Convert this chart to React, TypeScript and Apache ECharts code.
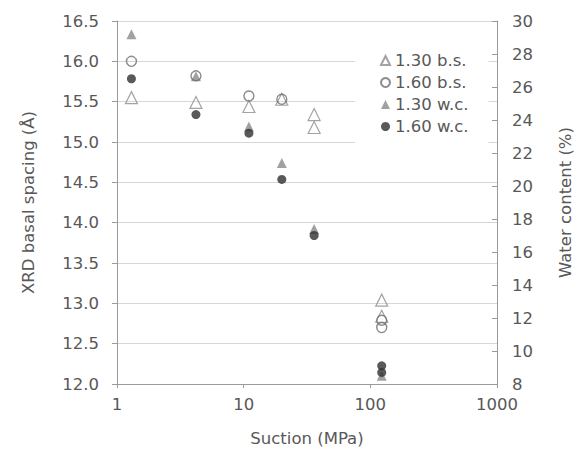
import React, { useEffect, useRef } from "react";
import * as echarts from "echarts";

// Suction (MPa) and measured values per series
const bs130X = [1.3, 4.2, 11, 20, 36, 36, 123, 123];
const bs130Y = [15.55, 15.49, 15.44, 15.53, 15.34, 15.18, 13.04, 12.84];
const bs160X = [1.3, 4.2, 11, 20, 123, 123];
const bs160Y = [16.0, 15.82, 15.57, 15.53, 12.79, 12.7];
const wc130X = [1.3, 4.2, 11, 20, 36, 123];
const wc130Y = [29.2, 26.65, 23.6, 21.4, 17.4, 8.5];
const wc160X = [1.3, 4.2, 11, 20, 36, 123, 123];
const wc160Y = [26.5, 24.33, 23.2, 20.4, 17.0, 9.1, 8.7];

const seriesNames = ["1.30 b.s.", "1.60 b.s.", "1.30 w.c.", "1.60 w.c."];
const xTicks = [1, 10, 100, 1000];

const pair = (xs: number[], ys: number[]) => xs.map((x, i) => [x, ys[i]]);

const FONT = "DejaVu Sans";
const TXT = "#585858";

export default function App() {
  const ref = useRef<HTMLDivElement>(null);
  useEffect(() => {
    if (!ref.current) return;
    const chart = echarts.init(ref.current, undefined, { renderer: "svg" });
    chart.setOption({
      animation: false,
      backgroundColor: "#ffffff",
      textStyle: { fontFamily: FONT },
      grid: { left: 117, right: 91, top: 21, bottom: 78 },
      legend: {
        orient: "vertical",
        left: 355,
        top: 36,
        padding: [16, 20, 18, 25],
        backgroundColor: "#ffffff",
        itemWidth: 9,
        itemHeight: 9,
        itemGap: 5,
        textStyle: { fontFamily: FONT, fontSize: 16.5, color: TXT },
        data: seriesNames,
      },
      xAxis: {
        type: "log",
        logBase: 10,
        min: 1,
        max: 1000,
        name: "Suction (MPa)",
        nameLocation: "middle",
        nameGap: 46,
        nameTextStyle: { fontFamily: FONT, fontSize: 16.5, color: TXT },
        axisLine: { lineStyle: { color: "#9a9a9a" } },
        axisTick: { show: true, length: 4, lineStyle: { color: "#9a9a9a" } },
        axisLabel: {
          fontFamily: FONT,
          fontSize: 16.5,
          color: TXT,
          margin: 12,
          formatter: (v: number) => (xTicks.includes(v) ? String(v) : ""),
        },
        splitLine: { show: false },
        minorTick: { show: false },
      },
      yAxis: [
        {
          type: "value",
          min: 12,
          max: 16.5,
          interval: 0.5,
          position: "left",
          name: "XRD basal spacing (Å)",
          nameLocation: "middle",
          nameGap: 80,
          nameTextStyle: { fontFamily: FONT, fontSize: 16.5, color: TXT },
          axisLine: { show: true, lineStyle: { color: "#9a9a9a" } },
          axisTick: { show: true, length: 5, lineStyle: { color: "#9a9a9a" } },
          axisLabel: {
            fontFamily: FONT,
            fontSize: 16.5,
            color: TXT,
            margin: 18,
            formatter: (v: number) => v.toFixed(1),
          },
          splitLine: { show: true, lineStyle: { color: "#d6d6d6", width: 1 } },
        },
        {
          type: "value",
          min: 8,
          max: 30,
          interval: 2,
          position: "right",
          name: "Water content (%)",
          nameLocation: "middle",
          nameGap: 60,
          nameTextStyle: { fontFamily: FONT, fontSize: 16.5, color: TXT },
          axisLine: { show: true, lineStyle: { color: "#9a9a9a" } },
          axisTick: { show: true, inside: true, length: 5, lineStyle: { color: "#9a9a9a" } },
          axisLabel: { fontFamily: FONT, fontSize: 16.5, color: TXT, margin: 15 },
          splitLine: { show: false },
        },
      ],
      series: [
        {
          name: seriesNames[2],
          type: "scatter",
          yAxisIndex: 1,
          symbol: "triangle",
          symbolSize: 10,
          itemStyle: { color: "#8a8a8a" },
          data: pair(wc130X, wc130Y),
        },
        {
          name: seriesNames[3],
          type: "scatter",
          yAxisIndex: 1,
          symbol: "circle",
          symbolSize: 9,
          itemStyle: { color: "#2f2f2f" },
          data: pair(wc160X, wc160Y),
        },
        {
          name: seriesNames[0],
          type: "scatter",
          yAxisIndex: 0,
          symbol: "triangle",
          symbolSize: 12,
          itemStyle: { color: "transparent", borderColor: "#8c8c8c", borderWidth: 1.2 },
          data: pair(bs130X, bs130Y),
        },
        {
          name: seriesNames[1],
          type: "scatter",
          yAxisIndex: 0,
          symbol: "circle",
          symbolSize: 10,
          itemStyle: { color: "transparent", borderColor: "#6e6e6e", borderWidth: 1.4 },
          data: pair(bs160X, bs160Y),
        },
      ],
    });
    return () => chart.dispose();
  }, []);
  return <div ref={ref} style={{ width: 588, height: 462, position: "absolute", left: 0, top: 0 }} />;
}
